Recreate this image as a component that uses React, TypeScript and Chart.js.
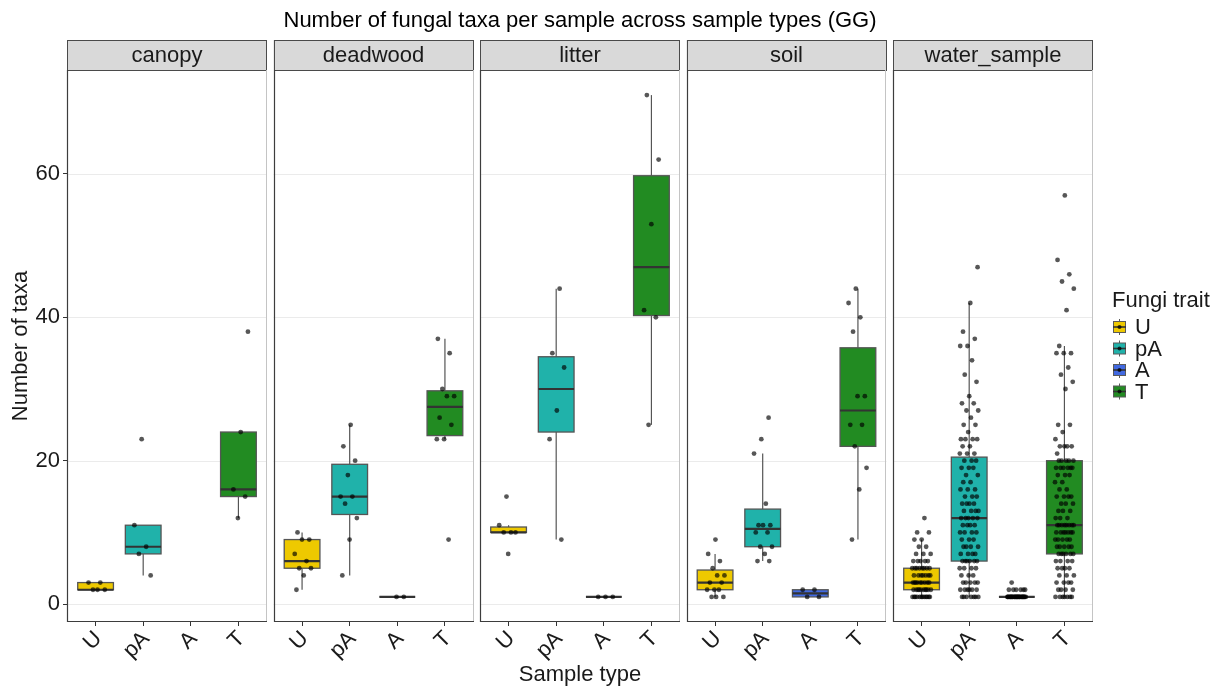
import { useEffect, useRef } from "react";
import { Chart, registerables } from "chart.js";

Chart.register(...registerables);

// Facets, trait categories and their fill colours
const sampleTypes = ["canopy", "deadwood", "litter", "soil", "water_sample"];
const traits = ["U", "pA", "A", "T"];
const traitColors = ["#EEC900", "#20B2AA", "#4169E1", "#228B22"];
const yTicks = [0, 20, 40, 60];

// Number of taxa per sample, by sample type and fungi trait
const canopyU = [3, 3, 2, 2, 2];
const canopyPA = [23, 11, 8, 7, 4];
const canopyA: number[] = [];
const canopyT = [38, 24, 16, 15, 12];

const deadwoodU = [10, 9, 9, 7, 6, 5, 5, 4, 2];
const deadwoodPA = [25, 22, 20, 18, 15, 15, 14, 12, 9, 4];
const deadwoodA = [1, 1];
const deadwoodT = [37, 35, 30, 29, 29, 26, 25, 23, 23, 9];

const litterU = [15, 11, 10, 10, 10, 7];
const litterPA = [44, 35, 33, 27, 23, 9];
const litterA = [1, 1, 1];
const litterT = [71, 62, 53, 41, 40, 25];

const soilU = [9, 7, 6, 5, 4, 4, 3, 3, 2, 2, 2, 1, 1, 1];
const soilPA = [26, 23, 21, 14, 11, 11, 11, 10, 10, 8, 8, 7, 6, 6];
const soilA = [2, 2, 1, 1];
const soilT = [44, 42, 40, 38, 29, 29, 25, 25, 22, 19, 16, 9];

const waterU = [
  12, 10, 10, 9, 9, 8, 8, 7, 7, 7, 6, 6, 6, 6, 6, 5, 5, 5, 5, 5, 5, 5, 5,
  4, 4, 4, 4, 4, 4, 4, 3, 3, 3, 3, 3, 3, 3, 3, 3, 2, 2, 2, 2, 2, 2, 2, 2, 2, 2,
  1, 1, 1, 1, 1, 1, 1, 1, 1, 1, 1, 1,
];
const waterPA = [
  47, 42, 38, 37, 36, 36, 34, 32, 31, 29, 28, 28, 27, 27, 26, 25, 25, 24,
  23, 23, 23, 23, 22, 22, 21, 21, 21, 20, 20, 20, 19, 19, 19, 18, 18, 17, 17,
  16, 16, 16, 15, 15, 15, 14, 14, 14, 14, 13, 13, 13, 13, 12, 12, 12, 12, 12,
  11, 11, 11, 11, 10, 10, 10, 10, 9, 9, 9, 8, 8, 8, 8, 7, 7, 7, 7,
  6, 6, 6, 6, 6, 6, 5, 5, 5, 5, 4, 4, 4, 3, 3, 3, 3, 3, 2, 2, 2, 2, 2, 2,
  1, 1, 1, 1, 1, 1, 1,
];
const waterA = [
  3, 2, 2, 2, 2, 2, 2, 1, 1, 1, 1, 1, 1, 1, 1, 1, 1, 1, 1, 1, 1, 1, 1, 1, 1,
  1, 1, 1, 1, 1, 1, 1, 1, 1, 1, 1, 1,
];
const waterT = [
  57, 48, 46, 45, 44, 41, 36, 35, 35, 35, 33, 32, 31, 30, 25, 25, 24, 23,
  22, 22, 22, 22, 21, 20, 20, 20, 20, 20, 19, 19, 19, 19, 19, 19, 18, 18, 18,
  17, 17, 16, 16, 15, 15, 15, 15, 14, 14, 14, 13, 13, 13, 12, 12, 12,
  11, 11, 11, 11, 11, 11, 11, 11, 10, 10, 10, 10, 10, 10, 10, 9, 9, 9, 9, 9,
  8, 8, 8, 8, 8, 7, 7, 7, 7, 7, 7, 6, 6, 6, 6, 5, 5, 5, 5, 4, 4, 4,
  3, 3, 3, 3, 2, 2, 2, 2, 1, 1, 1, 1, 1, 1, 1,
];

// Box statistics: [lower whisker, Q1, median, Q3, upper whisker]
const canopyBox = [[2, 2, 2, 3, 3], [4, 7, 8, 11, 11], null, [12, 15, 16, 24, 24]];
const deadwoodBox = [[2, 5, 6, 9, 10], [4, 12.5, 15, 19.5, 25], [1, 1, 1, 1, 1], [23, 23.5, 27.5, 29.75, 37]];
const litterBox = [[10, 10, 10, 10.75, 11], [9, 24, 30, 34.5, 44], [1, 1, 1, 1, 1], [25, 40.25, 47, 59.75, 71]];
const soilBox = [[1, 2, 3, 4.75, 7], [6, 8, 10.5, 13.25, 21], [1, 1, 1.5, 2, 2], [9, 22, 27, 35.75, 44]];
const waterBox = [[1, 2, 3, 5, 9], [1, 6, 12, 20.5, 42], [1, 1, 1, 1, 1], [1, 7, 11, 20, 36]];

const samplesByFacet = [
  [canopyU, canopyPA, canopyA, canopyT],
  [deadwoodU, deadwoodPA, deadwoodA, deadwoodT],
  [litterU, litterPA, litterA, litterT],
  [soilU, soilPA, soilA, soilT],
  [waterU, waterPA, waterA, waterT],
];
const boxesByFacet = [canopyBox, deadwoodBox, litterBox, soilBox, waterBox];

// Facet geometry on one shared linear x scale
const PANEL_UNITS = 4.2; // four categories plus 0.6 padding on each side
const GAP_UNITS = 0.1365;
const X_MAX = sampleTypes.length * PANEL_UNITS + (sampleTypes.length - 1) * GAP_UNITS;
const panelStart = (p: number) => p * (PANEL_UNITS + GAP_UNITS);
const catX = (p: number, c: number) => panelStart(p) + 0.6 + c;
const BOX_HALF = 0.375;
const JITTER = 0.2;

const FONT = "'Liberation Sans', Arial, Helvetica, sans-serif";
const TEXT = "#1a1a1a";
const FS = 22;

// x offsets spread evenly inside the jitter band
const jitterOffset = (i: number, seed: number) => {
  const f = (i * 0.6180339887 + seed) % 1;
  return (f - 0.5) * 2 * JITTER;
};

const points: { x: number; y: number }[] = [];
samplesByFacet.forEach((groups, p) =>
  groups.forEach((vals, c) =>
    vals.forEach((v, i) => points.push({ x: catX(p, c) + jitterOffset(i, 0.13 * (p + 1) + 0.29 * c), y: v }))
  )
);

const tickPositions: number[] = [];
sampleTypes.forEach((_, p) => traits.forEach((_t, c) => tickPositions.push(catX(p, c))));

const line = (ctx: CanvasRenderingContext2D, x1: number, y1: number, x2: number, y2: number) => {
  ctx.beginPath();
  ctx.moveTo(x1, y1);
  ctx.lineTo(x2, y2);
  ctx.stroke();
};

const facetPlugin = {
  id: "facets",
  beforeDatasetsDraw(chart: any) {
    const { ctx, chartArea, scales } = chart;
    const x = scales.x;
    const y = scales.y;
    ctx.save();
    sampleTypes.forEach((name, p) => {
      const left = x.getPixelForValue(panelStart(p));
      const right = x.getPixelForValue(panelStart(p) + PANEL_UNITS);

      // horizontal grid lines
      ctx.strokeStyle = "#EBEBEB";
      ctx.lineWidth = 1;
      yTicks.forEach((v) => {
        const py = Math.round(y.getPixelForValue(v)) + 0.5;
        line(ctx, left, py, right, py);
      });

      // strip header
      const stripTop = chartArea.top - 30;
      ctx.fillStyle = "#D9D9D9";
      ctx.fillRect(left, stripTop, right - left, 30);
      ctx.strokeStyle = "#4a4a4a";
      ctx.lineWidth = 1;
      ctx.strokeRect(Math.round(left) + 0.5, stripTop + 0.5, Math.round(right - left) - 1, 30);
      ctx.fillStyle = TEXT;
      ctx.font = `${FS}px ${FONT}`;
      ctx.textAlign = "center";
      ctx.textBaseline = "middle";
      ctx.fillText(name, (left + right) / 2, stripTop + 15.5);

      // box plots
      const half = x.getPixelForValue(BOX_HALF) - x.getPixelForValue(0);
      boxesByFacet[p].forEach((s, c) => {
        if (!s) return;
        const cx = x.getPixelForValue(catX(p, c));
        const [lw, q1, med, q3, uw] = s.map((v: number) => y.getPixelForValue(v));
        ctx.strokeStyle = "#555555";
        ctx.lineWidth = 1.2;
        line(ctx, cx, q1, cx, lw);
        line(ctx, cx, q3, cx, uw);
        ctx.fillStyle = traitColors[c];
        ctx.fillRect(cx - half, q3, 2 * half, q1 - q3);
        ctx.strokeStyle = "#555555";
        ctx.lineWidth = 1.3;
        ctx.strokeRect(cx - half, q3, 2 * half, q1 - q3);
        ctx.strokeStyle = "#333333";
        ctx.lineWidth = 2.2;
        line(ctx, cx - half, med, cx + half, med);
      });
    });
    ctx.restore();
  },
  afterDatasetsDraw(chart: any) {
    const { ctx, chartArea, scales } = chart;
    const x = scales.x;
    ctx.save();
    sampleTypes.forEach((_, p) => {
      const left = Math.round(x.getPixelForValue(panelStart(p)));
      const right = Math.round(x.getPixelForValue(panelStart(p) + PANEL_UNITS));
      const top = chartArea.top;
      const bottom = Math.round(chartArea.bottom);
      ctx.strokeStyle = "#C4C4C4";
      ctx.lineWidth = 1;
      line(ctx, right - 0.5, top, right - 0.5, bottom);
      ctx.strokeStyle = "#3d3d3d";
      ctx.lineWidth = 1.2;
      line(ctx, left + 0.5, top, left + 0.5, bottom);
      line(ctx, left, bottom - 0.5, right, bottom - 0.5);
    });
    ctx.restore();
  },
  afterDraw(chart: any) {
    const { ctx } = chart;
    ctx.save();
    ctx.font = `${FS}px ${FONT}`;
    ctx.fillStyle = TEXT;
    ctx.textAlign = "left";
    ctx.textBaseline = "middle";
    ctx.fillText("Fungi trait", 1112, 301);
    traits.forEach((t, i) => {
      const cy = 327 + i * 21.5;
      const kx = 1113;
      ctx.strokeStyle = "#5a5a5a";
      ctx.lineWidth = 1;
      line(ctx, kx + 6.5, cy - 8, kx + 6.5, cy + 8);
      ctx.fillStyle = traitColors[i];
      ctx.fillRect(kx, cy - 5.5, 13, 11);
      ctx.strokeRect(kx + 0.5, cy - 5.5, 12, 11);
      ctx.strokeStyle = "#333";
      ctx.lineWidth = 1.6;
      line(ctx, kx, cy, kx + 13, cy);
      ctx.fillStyle = "rgba(0,0,0,0.75)";
      ctx.beginPath();
      ctx.arc(kx + 6.5, cy, 2, 0, Math.PI * 2);
      ctx.fill();
      ctx.fillStyle = TEXT;
      ctx.fillText(t, 1135, cy + 1);
    });
    ctx.restore();
  },
};

export default function App() {
  const canvasRef = useRef<HTMLCanvasElement | null>(null);

  useEffect(() => {
    const canvas = canvasRef.current;
    if (!canvas) return;
    const font = { family: FONT, size: FS, weight: "normal" as const };
    const chart = new Chart(canvas, {
      type: "scatter",
      data: {
        datasets: [
          {
            data: points,
            pointRadius: 2.4,
            pointHoverRadius: 2.4,
            pointBackgroundColor: "rgba(0,0,0,0.66)",
            pointBorderWidth: 0,
          },
        ],
      },
      options: {
        animation: false,
        responsive: false,
        events: [],
        layout: { padding: { left: 0, right: 133, top: 0, bottom: 0 } },
        plugins: {
          legend: { display: false },
          tooltip: { enabled: false },
          title: {
            display: true,
            text: "Number of fungal taxa per sample across sample types (GG)",
            fullSize: false,
            color: "#000",
            font,
            padding: { top: 8, bottom: 35.6 },
          },
        },
        scales: {
          x: {
            type: "linear",
            min: 0,
            max: X_MAX,
            offset: false,
            afterBuildTicks: (s: any) => {
              s.ticks = tickPositions.map((v) => ({ value: v }));
            },
            afterFit: (s: any) => {
              s.height = 67;
            },
            ticks: {
              autoSkip: false,
              minRotation: 45,
              maxRotation: 45,
              padding: 0,
              labelOffset: 3,
              color: TEXT,
              font,
              callback: (_v: any, i: number) => traits[i % traits.length],
            },
            grid: { drawOnChartArea: false, drawTicks: true, tickLength: 4, color: "#333" },
            border: { display: false },
            title: { display: true, text: "Sample type", color: TEXT, font, padding: { top: 0, bottom: 1 } },
          },
          y: {
            min: -2.5,
            max: 74.5,
            afterBuildTicks: (s: any) => {
              s.ticks = yTicks.map((v) => ({ value: v }));
            },
            afterFit: (s: any) => {
              s.width = 67;
            },
            ticks: { padding: 3, color: TEXT, font },
            grid: { drawOnChartArea: false, drawTicks: true, tickLength: 4, color: "#333" },
            border: { display: false },
            title: { display: true, text: "Number of taxa", color: TEXT, font, padding: { top: 8, bottom: 0 } },
          },
        },
      },
      plugins: [facetPlugin],
    } as any);
    return () => chart.destroy();
  }, []);

  return (
    <div style={{ position: "absolute", left: 0, top: 0, width: 1226, height: 689, background: "#fff" }}>
      <canvas ref={canvasRef} width={1226} height={689} style={{ width: 1226, height: 689, display: "block" }} />
    </div>
  );
}
